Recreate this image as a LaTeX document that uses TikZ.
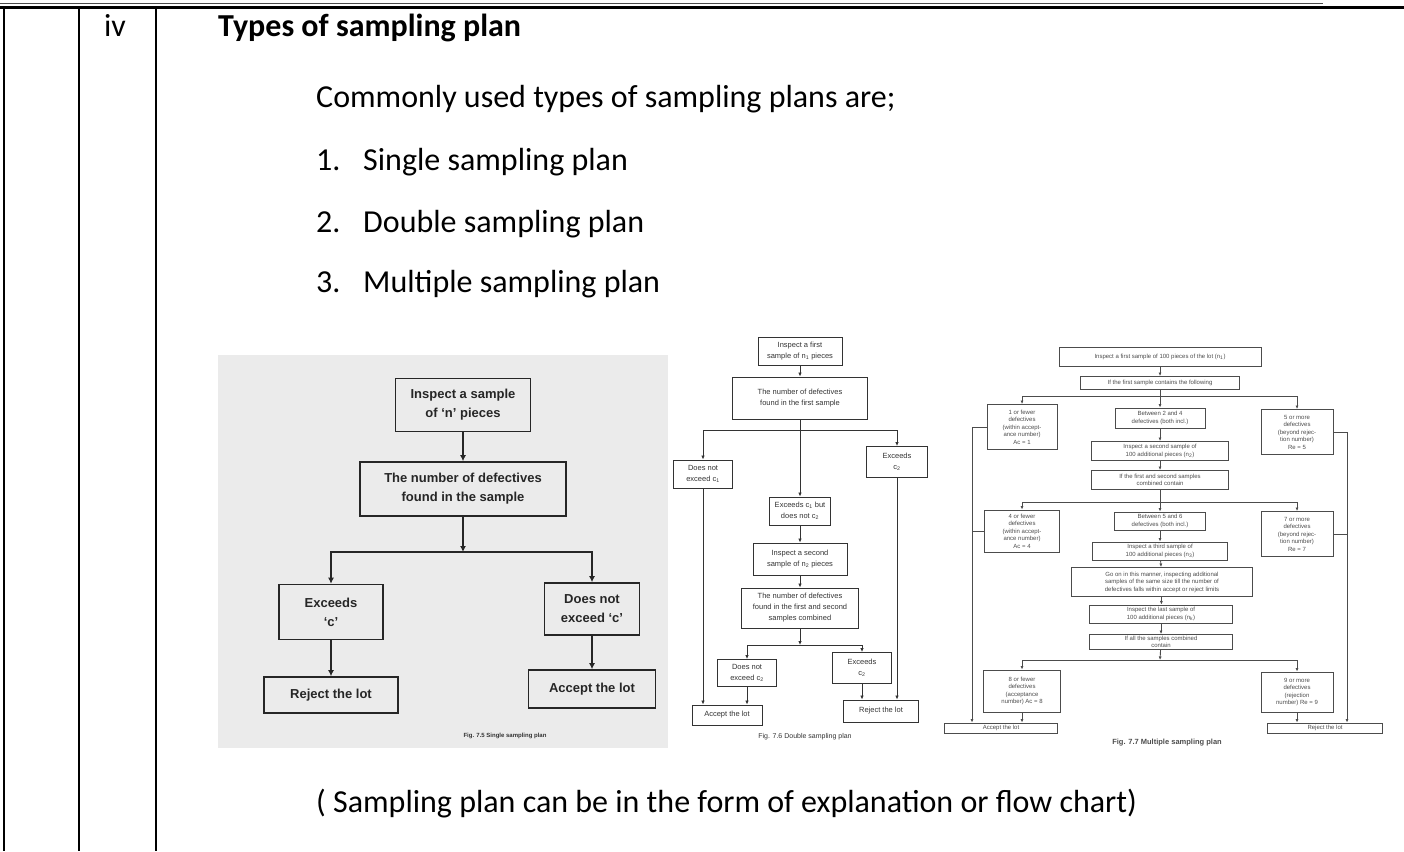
\documentclass[tikz,border=0pt]{standalone}
\usepackage{fontspec}
\setmainfont{Carlito}
\newfontfamily\scanfont{Liberation Sans}
\usepackage{tikz}
\usetikzlibrary{arrows.meta}

\begin{document}
\begin{tikzpicture}[x=1pt, y=-1pt,
	txt/.style={inner sep=0pt, anchor=base west, font={\fontsize{32}{38}\selectfont}},
	boxA/.style={draw, color=black!85, line width=1.6pt, inner sep=2pt, align=center, font={\scanfont\bfseries\fontsize{13}{19}\selectfont}},
	arrA/.style={color=black!85, line width=1.6pt, -{Latex[length=6pt,width=6pt]}},
	boxB/.style={draw, color=black!80, line width=0.9pt, inner sep=1.5pt, align=center, font={\scanfont\fontsize{7.5}{11}\selectfont}},
	arrB/.style={color=black!80, line width=0.9pt, -{Latex[length=4pt,width=3.5pt]}},
	boxC/.style={draw, color=black!70, line width=0.9pt, inner sep=1pt, align=center, font={\scanfont\fontsize{6}{7.5}\selectfont}},
	arrC/.style={color=black!70, line width=0.9pt, -{Latex[length=3.5pt,width=3pt]}},
	figcap/.style={color=black!80, font={\scanfont\bfseries\fontsize{6}{7}\selectfont}}
]
\useasboundingbox (0,0) rectangle (1404,851);

% table rules
\draw[black!70, line width=1.2pt] (0,3.5) -- (1323,3.5);
\draw[line width=2.5pt] (0,7.5) -- (1404,7.5);
\foreach \x in {4,79,156}
	\draw[line width=1.6pt] (\x,7.5) -- (\x,851);

% text of the answer
\node[txt, anchor=base] (num) at (115,37) {iv};
\node[txt] (title) at (218,37) {\bfseries Types of sampling plan};
\node[txt] (intro) at (316,107) {Commonly used types of sampling plans are;};
\foreach \n/\kind/\y in {1/Single/170, 2/Double/232, 3/Multiple/292} {
	\node[txt] (n\n) at (316,\y) {\n.};
	\node[txt] (item\n) at (363,\y) {\kind\ sampling plan};
}
\node[txt] (note) at (316,812) {( Sampling plan can be in the form of explanation or flow chart)};

% single sampling plan
\fill[black!8] (218,355) rectangle (668,748);
\node[boxA, minimum width=135pt, minimum height=53pt] (insp) at (463,405) {Inspect a sample\\of ‘n’ pieces};
\node[boxA, minimum width=206pt, minimum height=54pt] (found) at (463,489) {The number of defectives\\found in the sample};
\coordinate (sj) at (463,552);
\node[boxA, minimum width=104pt, minimum height=55pt] (exc) at (331,612) {Exceeds\\‘c’};
\node[boxA, minimum width=95pt, minimum height=52pt] (nexc) at (592,609) {Does not\\exceed ‘c’};
\node[boxA, minimum width=134pt, minimum height=36pt] (rej) at (331,695) {Reject the lot};
\node[boxA, minimum width=127pt, minimum height=38pt] (acc) at (592,689) {Accept the lot};
\path[arrA]
(insp) edge (found)
(found) edge (sj)
(exc) edge (rej)
(nexc) edge (acc);
\draw[arrA] (sj) -| (exc);
\draw[arrA] (sj) -| (nexc);
\node[figcap] (cap1) at (505,736) {Fig. 7.5 Single sampling plan};

% double sampling plan
\node[boxB, minimum width=84pt, minimum height=28pt] (dfirst) at (800,351) {Inspect a first\\sample of n\textsubscript{1} pieces};
\node[boxB, minimum width=135pt, minimum height=42pt] (dcount) at (800,398) {The number of defectives\\found in the first sample};
\coordinate (dj1) at (800,430);
\node[boxB, minimum width=59pt, minimum height=28pt] (dacc1) at (703,474) {Does not\\exceed c\textsubscript{1}};
\node[boxB, minimum width=61pt, minimum height=31pt] (drej1) at (897,462) {Exceeds\\c\textsubscript{2}};
\node[boxB, minimum width=61pt, minimum height=28pt] (dmid) at (800,511) {Exceeds c\textsubscript{1} but\\does not c\textsubscript{2}};
\node[boxB, minimum width=94pt, minimum height=32pt] (dsecond) at (800,559) {Inspect a second\\sample of n\textsubscript{2} pieces};
\node[boxB, minimum width=117pt, minimum height=40pt] (dcomb) at (800,608) {The number of defectives\\found in the first and second\\samples combined};
\coordinate (dj2) at (800,645);
\node[boxB, minimum width=59pt, minimum height=27pt] (dacc2) at (747,673) {Does not\\exceed c\textsubscript{2}};
\node[boxB, minimum width=59pt, minimum height=31pt] (drej2) at (862,668) {Exceeds\\c\textsubscript{2}};
\node[boxB, minimum width=70pt, minimum height=20pt] (dacc) at (727,715) {Accept the lot};
\node[boxB, minimum width=75pt, minimum height=22pt] (drej) at (881,711) {Reject the lot};
\path[arrB]
(dfirst) edge (dcount)
(dcount) edge (dmid)
(dmid) edge (dsecond)
(dsecond) edge (dcomb)
(dcomb) edge (dj2);
\draw[arrB] (dj1) -| (dacc1);
\draw[arrB] (dj1) -| (drej1);
\draw[arrB] (dj2) -| (dacc2);
\draw[arrB] (dj2) -| (drej2);
\draw[arrB] (dacc1) -- (dacc1 |- dacc.north);
\draw[arrB] (dacc2) -- (dacc2 |- dacc.north);
\draw[arrB] (drej1) -- (drej1 |- drej.north);
\draw[arrB] (drej2) -- (drej2 |- drej.north);
\node[figcap, font={\scanfont\fontsize{7}{8}\selectfont}] (cap2) at (805,737) {Fig. 7.6 Double sampling plan};

% multiple sampling plan
\foreach \nm/\x/\y/\w/\h/\txt in {
	mtop/1160/357/202/19/{Inspect a first sample of 100 pieces of the lot (n\textsubscript{1})},
	mif/1160/383/159/13/{If the first sample contains the following},
	macc1/1022/427/70/45/{1 or fewer\\defectives\\(within accept-\\ance number)\\Ac = 1},
	mbet1/1160/418/90/20/{Between 2 and 4\\defectives (both incl.)},
	mrej1/1297/432/72/45/{5 or more\\defectives\\(beyond rejec-\\tion number)\\Re = 5},
	msec/1160/451/137/19/{Inspect a second sample of\\100 additional pieces (n\textsubscript{2})},
	mif2/1160/480/137/19/{If the first and second samples\\combined contain},
	macc2/1022/531/75/42/{4 or fewer\\defectives\\(within accept-\\ance number)\\Ac = 4},
	mbet2/1160/521/91/18/{Between 5 and 6\\defectives (both incl.)},
	mrej2/1297/534/72/45/{7 or more\\defectives\\(beyond rejec-\\tion number)\\Re = 7},
	mthird/1160/551/135/18/{Inspect a third sample of\\100 additional pieces (n\textsubscript{3})},
	mgo/1162/582/181/29/{Go on in this manner, inspecting additional\\samples of the same size till the number of\\defectives falls within accept or reject limits},
	mlast/1161/614/143/18/{Inspect the last sample of\\100 additional pieces (n\textsubscript{k})},
	mif3/1161/642/143/15/{If all the samples combined\\contain},
	macc3/1022/691/77/42/{8 or fewer\\defectives\\(acceptance\\number) Ac = 8},
	mrej3/1297/692/72/40/{9 or more\\defectives\\(rejection\\number) Re = 9},
	macc/1001/728/113/10/{Accept the lot},
	mrej/1325/728/115/10/{Reject the lot}}
	\node[boxC, minimum width=\w, minimum height=\h] (\nm) at (\x,\y) {\txt};
\coordinate (mj1) at (1160,396);
\coordinate (mj2) at (1160,502);
\coordinate (mj3) at (1160,660);
\coordinate (mrailL) at (972,0);
\coordinate (mrailR) at (1347,0);
\path[arrC]
(mtop) edge (mif)
(mif) edge (mbet1)
(mbet1) edge (msec)
(msec) edge (mif2)
(mif2) edge (mbet2)
(mbet2) edge (mthird)
(mthird) edge (mgo)
(mgo) edge (mlast)
(mlast) edge (mif3)
(mif3) edge (mj3);
\draw[arrC] (mj1) -| (macc1);
\draw[arrC] (mj1) -| (mrej1);
\draw[arrC] (mj2) -| (macc2);
\draw[arrC] (mj2) -| (mrej2);
\draw[arrC] (mj3) -| (macc3);
\draw[arrC] (mj3) -| (mrej3);
\draw[arrC] (macc3) -- (macc3 |- macc.north);
\draw[arrC] (mrej3) -- (mrej3 |- mrej.north);
\draw[arrC] (macc1.west) -| (mrailL |- macc.north);
\draw[arrC] (mrej1.east) -| (mrailR |- mrej.north);
\draw[color=black!70, line width=0.9pt] (macc2.west) -- (macc2.west -| mrailL);
\draw[color=black!70, line width=0.9pt] (mrej2.east) -- (mrej2.east -| mrailR);
\node[figcap, color=black!70, font={\scanfont\bfseries\fontsize{7.5}{9}\selectfont}] (cap3) at (1167,743) {Fig. 7.7 Multiple sampling plan};
\end{tikzpicture}
\end{document}
